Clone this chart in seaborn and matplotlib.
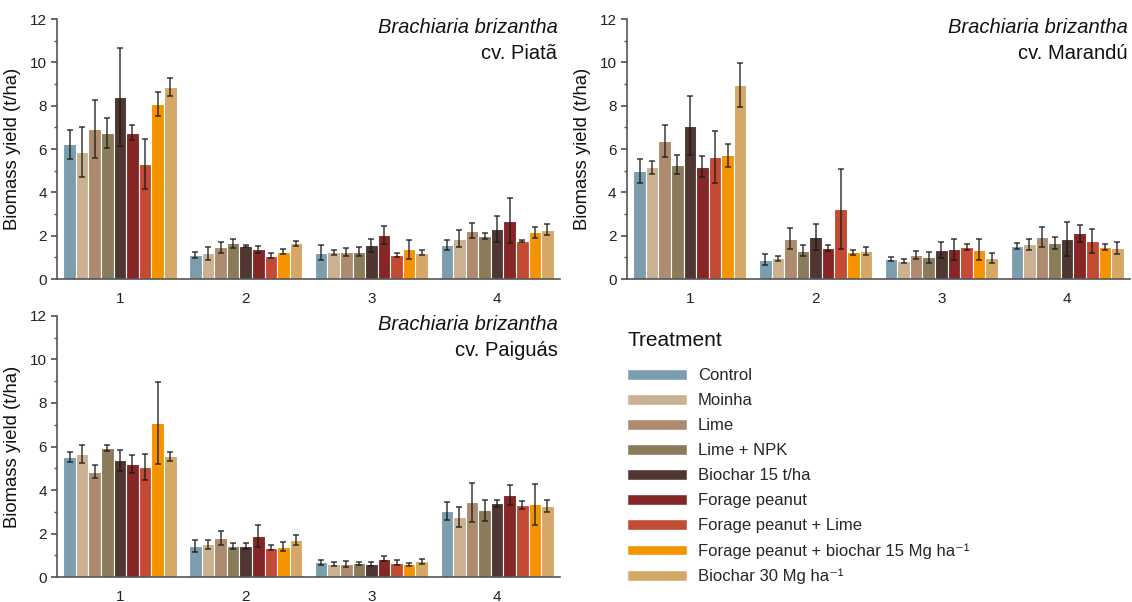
import numpy as np
import pandas as pd
import matplotlib
matplotlib.use("Agg")
import matplotlib.pyplot as plt
import seaborn as sns

# --- data ---
groups = ["1", "2", "3", "4"]
treatments = ["Control", "Moinha", "Lime", "Lime + NPK", "Biochar 15 t/ha",
              "Forage peanut", "Forage peanut + Lime",
              "Forage peanut + biochar 15 Mg ha⁻¹", "Biochar 30 Mg ha⁻¹"]
colors = ["#7a9ead", "#cab192", "#ae8b6e", "#8a7b5a", "#503630",
          "#862626", "#c44b33", "#f59300", "#d6a867"]

# one row per treatment, one value per group (1..4)
piata_mean = [[6.22, 1.10, 1.21, 1.57], [5.87, 1.18, 1.24, 1.86], [6.91, 1.46, 1.24, 2.23],
              [6.73, 1.64, 1.27, 2.00], [8.40, 1.54, 1.55, 2.33], [6.76, 1.37, 2.03, 2.69],
              [5.31, 1.08, 1.11, 1.77], [8.08, 1.27, 1.37, 2.15], [8.88, 1.64, 1.21, 2.27]]
piata_sd = [[0.66, 0.15, 0.34, 0.25], [1.15, 0.30, 0.11, 0.40], [1.34, 0.25, 0.17, 0.35],
            [0.69, 0.20, 0.20, 0.13], [2.24, 0.05, 0.28, 0.60], [0.36, 0.15, 0.40, 1.04],
            [1.17, 0.12, 0.08, 0.04], [0.57, 0.12, 0.43, 0.25], [0.41, 0.13, 0.12, 0.25]]

marandu_mean = [[4.99, 0.89, 0.92, 1.52], [5.15, 0.95, 0.83, 1.60], [6.37, 1.87, 1.10, 1.94],
                [5.28, 1.31, 1.00, 1.67], [7.08, 1.94, 1.34, 1.84], [5.19, 1.44, 1.37, 2.12],
                [5.64, 3.23, 1.47, 1.75], [5.71, 1.24, 1.35, 1.46], [8.96, 1.29, 0.97, 1.43]]
marandu_sd = [[0.55, 0.26, 0.10, 0.13], [0.32, 0.13, 0.10, 0.25], [0.73, 0.48, 0.18, 0.47],
              [0.44, 0.26, 0.25, 0.28], [1.35, 0.62, 0.35, 0.80], [0.49, 0.15, 0.48, 0.39],
              [1.21, 1.86, 0.14, 0.56], [0.54, 0.12, 0.48, 0.14], [1.03, 0.17, 0.21, 0.27]]

paiguas_mean = [[5.53, 1.44, 0.67, 3.03], [5.66, 1.50, 0.60, 2.76], [4.84, 1.79, 0.61, 3.43],
                [5.93, 1.43, 0.63, 3.06], [5.36, 1.43, 0.60, 3.38], [5.20, 1.88, 0.84, 3.77],
                [5.04, 1.35, 0.66, 3.32], [7.08, 1.39, 0.58, 3.35], [5.56, 1.69, 0.72, 3.27]]
paiguas_sd = [[0.23, 0.28, 0.12, 0.40], [0.40, 0.20, 0.09, 0.46], [0.30, 0.33, 0.14, 0.90],
              [0.15, 0.15, 0.08, 0.50], [0.49, 0.13, 0.10, 0.15], [0.42, 0.50, 0.11, 0.46],
              [0.60, 0.10, 0.10, 0.18], [1.89, 0.20, 0.06, 0.94], [0.21, 0.23, 0.12, 0.27]]

cultivars = ["cv. Piatã", "cv. Marandú", "cv. Paiguás"]

sns.set_theme(style="white")
plt.rcParams["font.family"] = ["Liberation Sans", "DejaVu Sans"]
AXC = "#555555"


def to_frame(mean, sd):
    rows = []
    for t, mrow, srow in zip(treatments, mean, sd):
        for g, m, s in zip(groups, mrow, srow):
            rows.append({"Group": g, "Treatment": t, "mean": m, "sd": s})
    return pd.DataFrame(rows)


def draw_panel(ax, mean, sd, cultivar):
    df = to_frame(mean, sd)
    sns.barplot(data=df, x="Group", y="mean", hue="Treatment", hue_order=treatments,
                order=groups, palette=colors, saturation=1, errorbar=None, width=0.9,
                edgecolor="white", linewidth=0.8, ax=ax, legend=False)
    bars = list(ax.containers)
    for i, cont in enumerate(bars):
        xs = [p.get_x() + p.get_width() / 2 for p in cont]
        ax.errorbar(xs, mean[i], yerr=sd[i], fmt="none", ecolor="#1a1a1a",
                    elinewidth=1.1, capsize=2, capthick=1.1, alpha=0.85)
    ax.set_xlim(-0.5, 3.5)
    ax.set_ylim(0, 12)
    ax.set_yticks(range(0, 13, 2))
    ax.set_yticks(range(1, 12, 2), minor=True)
    ax.set_xlabel("")
    ax.set_ylabel("Biomass yield (t/ha)", fontsize=13.3, color="#111111", labelpad=6)
    sns.despine(ax=ax)
    for s in ["left", "bottom"]:
        ax.spines[s].set_color(AXC)
        ax.spines[s].set_linewidth(1.2)
    ax.tick_params(axis="y", which="both", left=True, direction="out", color=AXC,
                   labelsize=11, labelcolor="#222222")
    ax.tick_params(axis="y", which="major", length=4)
    ax.tick_params(axis="y", which="minor", length=2.5)
    ax.tick_params(axis="x", bottom=False, labelsize=11, labelcolor="#222222", pad=3)
    ax.text(0.995, 1.005, "Brachiaria brizantha", transform=ax.transAxes, ha="right",
            va="top", fontsize=14.5, style="italic", color="#111111")
    ax.text(0.995, 0.905, cultivar, transform=ax.transAxes, ha="right",
            va="top", fontsize=14.5, color="#111111")


fig = plt.figure(figsize=(11.32, 6.02), dpi=100)
ax1 = fig.add_axes([0.0504, 0.5365, 0.4443, 0.4319])
ax2 = fig.add_axes([0.5539, 0.5365, 0.4443, 0.4319])
ax3 = fig.add_axes([0.0504, 0.0415, 0.4443, 0.4336])

draw_panel(ax1, piata_mean, piata_sd, cultivars[0])
draw_panel(ax2, marandu_mean, marandu_sd, cultivars[1])
draw_panel(ax3, paiguas_mean, paiguas_sd, cultivars[2])

fig.text(628 / 1132, 1 - 340 / 602, "Treatment", ha="left", va="center",
         fontsize=15, color="#111111")
handles = [plt.Rectangle((0, 0), 1, 1, facecolor=c, edgecolor="white") for c in colors]
leg = fig.legend(handles, treatments, loc="upper left",
                 bbox_to_anchor=(0.542, 1 - 355 / 602), frameon=False, fontsize=12,
                 handlelength=3.6, handleheight=0.6,
                 labelspacing=0.6, handletextpad=0.65, borderpad=0.3)

fig.savefig("out.png", dpi=100)
